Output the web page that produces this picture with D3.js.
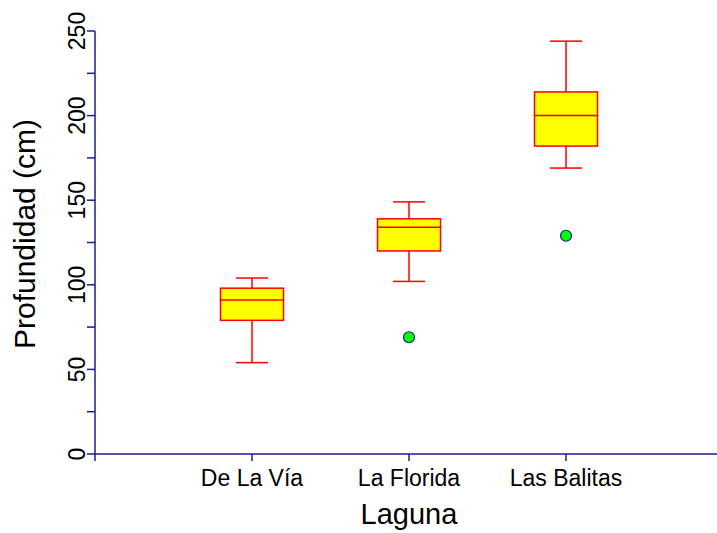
<!DOCTYPE html>
<html>
<head>
<meta charset="utf-8">
<script src="https://cdn.jsdelivr.net/npm/d3@7"></script>
<style>
  body { margin: 0; background: #fff; }
  svg text { font-family: "Liberation Sans", Arial, sans-serif; fill: #000; }
</style>
</head>
<body>
<svg id="chart" width="717" height="533"></svg>
<script>
// data
var lagunas = ["De La Vía", "La Florida", "Las Balitas"];
var lowWhisker = [54, 102, 169];
var q1 = [79, 120, 182];
var median = [91, 134, 200];
var q3 = [98, 139, 214];
var highWhisker = [104, 149, 244];
var outliers = [[], [69], [129]];
var yTicks = [0, 50, 100, 150, 200, 250];
var yMinor = [25, 75, 125, 175, 225];

var navy = "#1c1c8c";
var svg = d3.select("#chart");

var x = d3.scalePoint().domain(lagunas).range([95, 723]).padding(1);
var y = d3.scaleLinear().domain([0, 250]).range([454, 31]);

// y axis
var yAxis = svg.append("g").attr("transform", "translate(95,0)");
yAxis.append("line")
    .attr("x1", 0).attr("x2", 0)
    .attr("y1", y(250)).attr("y2", y(0) + 7)
    .attr("stroke", navy).attr("stroke-width", 1.5);
yAxis.selectAll(".minor").data(yMinor).enter().append("line")
    .attr("x1", -8).attr("x2", 0)
    .attr("y1", function(d) { return y(d); })
    .attr("y2", function(d) { return y(d); })
    .attr("stroke", navy).attr("stroke-width", 1.5);
yAxis.selectAll(".major").data(yTicks).enter().append("line")
    .attr("x1", -8).attr("x2", 0)
    .attr("y1", function(d) { return y(d); })
    .attr("y2", function(d) { return y(d); })
    .attr("stroke", navy).attr("stroke-width", 1.5);
yAxis.selectAll("text").data(yTicks).enter().append("text")
    .attr("transform", function(d) { return "translate(-10," + y(d) + ") rotate(-90)"; })
    .attr("text-anchor", "middle")
    .attr("font-size", 23)
    .text(function(d) { return d; });

// x axis
var xAxis = svg.append("g").attr("transform", "translate(0," + y(0) + ")");
xAxis.append("line")
    .attr("x1", 95).attr("x2", 717)
    .attr("stroke", navy).attr("stroke-width", 1.5);
xAxis.selectAll(".tick").data(lagunas).enter().append("line")
    .attr("x1", function(d) { return x(d); })
    .attr("x2", function(d) { return x(d); })
    .attr("y1", 0).attr("y2", 7)
    .attr("stroke", navy).attr("stroke-width", 1.5);
xAxis.selectAll("text").data(lagunas).enter().append("text")
    .attr("x", function(d) { return x(d); })
    .attr("y", 32)
    .attr("text-anchor", "middle")
    .attr("font-size", 23)
    .text(function(d) { return d; });

// titles
svg.append("text")
    .attr("x", x(lagunas[1])).attr("y", 524)
    .attr("text-anchor", "middle")
    .attr("font-size", 29)
    .text("Laguna");
svg.append("text")
    .attr("transform", "translate(35,234) rotate(-90)")
    .attr("text-anchor", "middle")
    .attr("font-size", 30)
    .text("Profundidad (cm)");

// boxes
var boxW = 63, capW = 32;
var boxes = svg.selectAll(".box").data(lagunas).enter().append("g");
boxes.each(function(d, i) {
    var g = d3.select(this), cx = x(d);
    var red = "#ff0000";
    g.append("line").attr("x1", cx).attr("x2", cx)
        .attr("y1", y(highWhisker[i])).attr("y2", y(q3[i]))
        .attr("stroke", red).attr("stroke-width", 1.5);
    g.append("line").attr("x1", cx).attr("x2", cx)
        .attr("y1", y(q1[i])).attr("y2", y(lowWhisker[i]))
        .attr("stroke", red).attr("stroke-width", 1.5);
    g.append("line").attr("x1", cx - capW / 2).attr("x2", cx + capW / 2)
        .attr("y1", y(highWhisker[i])).attr("y2", y(highWhisker[i]))
        .attr("stroke", red).attr("stroke-width", 1.5);
    g.append("line").attr("x1", cx - capW / 2).attr("x2", cx + capW / 2)
        .attr("y1", y(lowWhisker[i])).attr("y2", y(lowWhisker[i]))
        .attr("stroke", red).attr("stroke-width", 1.5);
    g.append("rect")
        .attr("x", cx - boxW / 2).attr("width", boxW)
        .attr("y", y(q3[i])).attr("height", y(q1[i]) - y(q3[i]))
        .attr("fill", "#ffff00").attr("stroke", red).attr("stroke-width", 1.5);
    g.append("line").attr("x1", cx - boxW / 2).attr("x2", cx + boxW / 2)
        .attr("y1", y(median[i])).attr("y2", y(median[i]))
        .attr("stroke", red).attr("stroke-width", 1.5);
    g.selectAll("circle").data(outliers[i]).enter().append("circle")
        .attr("cx", cx).attr("cy", function(v) { return y(v); })
        .attr("r", 5.5)
        .attr("fill", "#00ff00").attr("stroke", navy).attr("stroke-width", 1.2);
});
</script>
</body>
</html>
